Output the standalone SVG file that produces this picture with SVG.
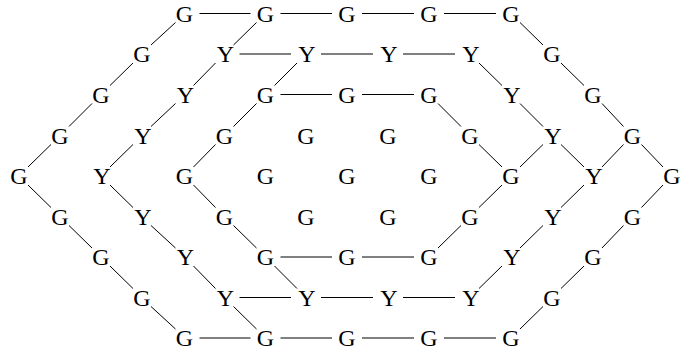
<svg xmlns="http://www.w3.org/2000/svg" width="680" height="353" viewBox="0 0 680 353">
<style>
text{font-family:"Liberation Serif","Times New Roman",serif;font-size:24px;text-anchor:middle;fill:#000}
#edges line{stroke:#000;stroke-width:1}
</style>
<rect width="680" height="353" fill="#fff"/>
<g id="edges">
<line x1="199.5" y1="13.5" x2="250.5" y2="13.5"/><line x1="280.5" y1="13.5" x2="332" y2="13.5"/><line x1="362" y1="13.5" x2="414" y2="13.5"/><line x1="444" y1="13.5" x2="496" y2="13.5"/>
<line x1="239.5" y1="54" x2="291" y2="54"/><line x1="321" y1="54" x2="373" y2="54"/><line x1="403" y1="54" x2="455" y2="54"/>
<line x1="280.5" y1="94.5" x2="332" y2="94.5"/><line x1="362" y1="94.5" x2="414" y2="94.5"/>
<line x1="280.5" y1="257" x2="332" y2="257"/><line x1="362" y1="257" x2="414" y2="257"/>
<line x1="239.5" y1="297.5" x2="291" y2="297.5"/><line x1="321" y1="297.5" x2="373" y2="297.5"/><line x1="403" y1="297.5" x2="455" y2="297.5"/>
<line x1="199.5" y1="338" x2="250.5" y2="338"/><line x1="280.5" y1="338" x2="332" y2="338"/><line x1="362" y1="338" x2="414" y2="338"/><line x1="444" y1="338" x2="496" y2="338"/>
<line x1="175.5" y1="22.5" x2="151" y2="45"/><line x1="133" y1="63" x2="110" y2="85.5"/><line x1="92" y1="103.5" x2="69" y2="126.5"/><line x1="51" y1="144.5" x2="28" y2="167"/>
<line x1="28" y1="185" x2="51" y2="207.5"/><line x1="69" y1="225.5" x2="92" y2="248"/><line x1="110" y1="266" x2="133" y2="288.5"/><line x1="151" y1="306.5" x2="175.5" y2="329"/>
<line x1="520" y1="22.5" x2="543" y2="45"/><line x1="561" y1="63" x2="584" y2="85.5"/><line x1="602" y1="103.5" x2="623.5" y2="126.5"/><line x1="641.5" y1="144.5" x2="663" y2="167"/>
<line x1="663" y1="185" x2="641.5" y2="207.5"/><line x1="623.5" y1="225.5" x2="602" y2="248"/><line x1="584" y1="266" x2="561" y2="288.5"/><line x1="543" y1="306.5" x2="520" y2="329"/>
<line x1="256.5" y1="22.5" x2="233.5" y2="45"/><line x1="215.5" y1="63" x2="193.5" y2="85.5"/><line x1="175.5" y1="103.5" x2="151" y2="126.5"/><line x1="133" y1="144.5" x2="110" y2="167"/>
<line x1="110" y1="185" x2="133" y2="207.5"/><line x1="151" y1="225.5" x2="175.5" y2="248"/><line x1="193.5" y1="266" x2="215.5" y2="288.5"/><line x1="233.5" y1="306.5" x2="256.5" y2="329"/>
<line x1="479" y1="63" x2="502" y2="85.5"/><line x1="520" y1="103.5" x2="543" y2="126.5"/><line x1="561" y1="144.5" x2="584" y2="167"/>
<line x1="584" y1="185" x2="561" y2="207.5"/><line x1="543" y1="225.5" x2="520" y2="248"/><line x1="502" y1="266" x2="479" y2="288.5"/>
<line x1="297" y1="63" x2="274.5" y2="85.5"/><line x1="256.5" y1="103.5" x2="233.5" y2="126.5"/><line x1="215.5" y1="144.5" x2="193.5" y2="167"/>
<line x1="193.5" y1="185" x2="215.5" y2="207.5"/><line x1="233.5" y1="225.5" x2="256.5" y2="248"/><line x1="274.5" y1="266" x2="297" y2="288.5"/>
<line x1="438" y1="103.5" x2="461" y2="126.5"/><line x1="479" y1="144.5" x2="502" y2="167"/>
<line x1="502" y1="185" x2="479" y2="207.5"/><line x1="461" y1="225.5" x2="438" y2="248"/>
<line x1="543" y1="144.5" x2="520" y2="167"/><line x1="623.5" y1="144.5" x2="602" y2="167"/>
</g>
<g id="n0_2"><text x="184.5" y="21.5">G</text></g>
<g id="n0_3"><text x="265.5" y="21.5">G</text></g>
<g id="n0_4"><text x="347" y="21.5">G</text></g>
<g id="n0_5"><text x="429" y="21.5">G</text></g>
<g id="n0_6"><text x="511" y="21.5">G</text></g>
<g id="n1_1"><text x="142" y="62">G</text></g>
<g id="n1_2"><text x="225.5" y="62">Y</text></g>
<g id="n1_3"><text x="307" y="62">Y</text></g>
<g id="n1_4"><text x="389" y="62">Y</text></g>
<g id="n1_5"><text x="471" y="62">Y</text></g>
<g id="n1_6"><text x="552" y="62">G</text></g>
<g id="n2_1"><text x="101" y="102.5">G</text></g>
<g id="n2_2"><text x="185.5" y="102.5">Y</text></g>
<g id="n2_3"><text x="265.5" y="102.5">G</text></g>
<g id="n2_4"><text x="347" y="102.5">G</text></g>
<g id="n2_5"><text x="429" y="102.5">G</text></g>
<g id="n2_6"><text x="512" y="102.5">Y</text></g>
<g id="n2_7"><text x="593" y="102.5">G</text></g>
<g id="n3_0"><text x="60" y="143.5">G</text></g>
<g id="n3_1"><text x="143" y="143.5">Y</text></g>
<g id="n3_2"><text x="224.5" y="143.5">G</text></g>
<g id="n3_3"><text x="306" y="143.5">G</text></g>
<g id="n3_4"><text x="388" y="143.5">G</text></g>
<g id="n3_5"><text x="470" y="143.5">G</text></g>
<g id="n3_6"><text x="553" y="143.5">Y</text></g>
<g id="n3_7"><text x="632.5" y="143.5">G</text></g>
<g id="n4_0"><text x="19" y="184">G</text></g>
<g id="n4_1"><text x="102" y="184">Y</text></g>
<g id="n4_2"><text x="184.5" y="184">G</text></g>
<g id="n4_3"><text x="265.5" y="184">G</text></g>
<g id="n4_4"><text x="347" y="184">G</text></g>
<g id="n4_5"><text x="429" y="184">G</text></g>
<g id="n4_6"><text x="511" y="184">G</text></g>
<g id="n4_7"><text x="594" y="184">Y</text></g>
<g id="n4_8"><text x="672" y="184">G</text></g>
<g id="n5_0"><text x="60" y="224.5">G</text></g>
<g id="n5_1"><text x="143" y="224.5">Y</text></g>
<g id="n5_2"><text x="224.5" y="224.5">G</text></g>
<g id="n5_3"><text x="306" y="224.5">G</text></g>
<g id="n5_4"><text x="388" y="224.5">G</text></g>
<g id="n5_5"><text x="470" y="224.5">G</text></g>
<g id="n5_6"><text x="553" y="224.5">Y</text></g>
<g id="n5_7"><text x="632.5" y="224.5">G</text></g>
<g id="n6_1"><text x="101" y="265">G</text></g>
<g id="n6_2"><text x="185.5" y="265">Y</text></g>
<g id="n6_3"><text x="265.5" y="265">G</text></g>
<g id="n6_4"><text x="347" y="265">G</text></g>
<g id="n6_5"><text x="429" y="265">G</text></g>
<g id="n6_6"><text x="512" y="265">Y</text></g>
<g id="n6_7"><text x="593" y="265">G</text></g>
<g id="n7_1"><text x="142" y="305.5">G</text></g>
<g id="n7_2"><text x="225.5" y="305.5">Y</text></g>
<g id="n7_3"><text x="307" y="305.5">Y</text></g>
<g id="n7_4"><text x="389" y="305.5">Y</text></g>
<g id="n7_5"><text x="471" y="305.5">Y</text></g>
<g id="n7_6"><text x="552" y="305.5">G</text></g>
<g id="n8_2"><text x="184.5" y="346">G</text></g>
<g id="n8_3"><text x="265.5" y="346">G</text></g>
<g id="n8_4"><text x="347" y="346">G</text></g>
<g id="n8_5"><text x="429" y="346">G</text></g>
<g id="n8_6"><text x="511" y="346">G</text></g>
</svg>
